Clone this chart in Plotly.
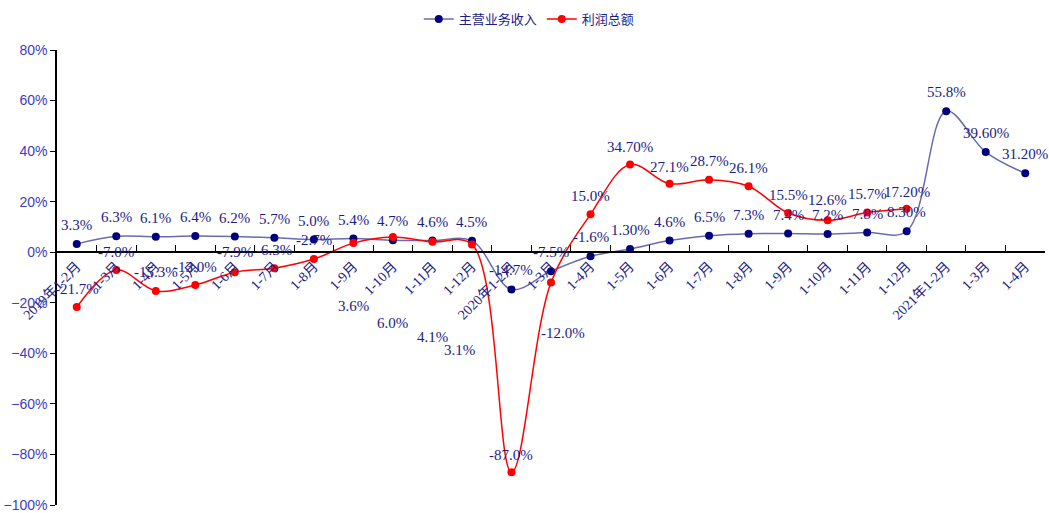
import plotly.graph_objects as go

categories = ["2019年1-2月", "1-3月", "1-4月", "1-5月", "1-6月", "1-7月", "1-8月", "1-9月",
              "1-10月", "1-11月", "1-12月", "2020年1-2月", "1-3月", "1-4月", "1-5月", "1-6月",
              "1-7月", "1-8月", "1-9月", "1-10月", "1-11月", "1-12月", "2021年1-2月", "1-3月", "1-4月"]
# category keys must be unique, labels repeat
keys = [str(i) for i in range(len(categories))]

revenue = [3.3, 6.3, 6.1, 6.4, 6.2, 5.7, 5.0, 5.4, 4.7, 4.6, 4.5, -14.7, -7.5, -1.6, 1.30,
           4.6, 6.5, 7.3, 7.4, 7.2, 7.8, 8.30, 55.8, 39.60, 31.20]
revenue_text = ["3.3%", "6.3%", "6.1%", "6.4%", "6.2%", "5.7%", "5.0%", "5.4%", "4.7%", "4.6%",
                "4.5%", "-14.7%", "-7.5%", "-1.6%", "1.30%", "4.6%", "6.5%", "7.3%", "7.4%",
                "7.2%", "7.8%", "8.30%", "55.8%", "39.60%", "31.20%"]

profit = [-21.7, -7.0, -15.3, -13.0, -7.9, -6.3, -2.7, 3.6, 6.0, 4.1, 3.1, -87.0, -12.0, 15.0,
          34.70, 27.1, 28.7, 26.1, 15.5, 12.6, 15.7, 17.20]
profit_text = ["-21.7%", "-7.0%", "-15.3%", "-13.0%", "-7.9%", "-6.3%", "-2.7%", "3.6%", "6.0%",
               "4.1%", "3.1%", "-87.0%", "-12.0%", "15.0%", "34.70%", "27.1%", "28.7%", "26.1%",
               "15.5%", "12.6%", "15.7%", "17.20%"]

# label offsets (pixels) for the profit series
profit_dx = [0, 0, 0, 0, 0, 0, 0, 0, 0, 0, -12, 0, 12, 0, 0, 0, 0, 0, 0, 0, 0, 0]
profit_dy = [18, 18, 19, 18, 20, 18, 19, -63, -86, -95, -106, 17, -50, 18, 18, 17, 19, 18, 18, 20, 19, 17]

navy = "#1c1c85"
label_font = dict(family="Liberation Serif, Noto Sans CJK SC", size=15, color=navy)

fig = go.Figure()
fig.add_trace(go.Scatter(x=keys, y=revenue, mode="lines+markers", name="主营业务收入",
                         line=dict(color="#6a6ab0", width=1.5, shape="spline", smoothing=1),
                         marker=dict(color="#000080", size=8)))
fig.add_trace(go.Scatter(x=keys[:len(profit)], y=profit, mode="lines+markers", name="利润总额",
                         line=dict(color="#ff0000", width=1.5, shape="spline", smoothing=1),
                         marker=dict(color="#ff0000", size=8)))

for k, v, t in zip(keys, revenue, revenue_text):
    fig.add_annotation(x=k, y=v, text=t, showarrow=False, yshift=19, font=label_font)
for k, v, t, dx, dy in zip(keys, profit, profit_text, profit_dx, profit_dy):
    fig.add_annotation(x=k, y=v, text=t, showarrow=False, xshift=dx, yshift=dy, font=label_font)

fig.update_layout(
    width=1049, height=513,
    margin=dict(l=57, r=4, t=48, b=8),
    plot_bgcolor="white", paper_bgcolor="white",
    showlegend=True,
    legend=dict(orientation="h", x=0.478, xanchor="center", y=1.068, yanchor="middle",
                font=dict(family="Noto Sans CJK SC", size=13, color=navy)),
    xaxis=dict(type="category", tickvals=keys, ticktext=categories, tickangle=-45,
               tickson="boundaries", ticks="inside", ticklen=6, tickcolor="black",
               showline=True, linecolor="black", linewidth=1.5, showgrid=False,
               anchor="free", position=100 / 180, automargin=False,
               range=[-0.5, len(keys) - 0.5],
               tickfont=dict(family="Liberation Serif, Noto Sans CJK SC", size=14, color=navy)),
    yaxis=dict(range=[-100, 80], dtick=20, ticksuffix="%", ticks="outside", ticklen=5,
               tickcolor="black", showline=True, linecolor="black", linewidth=1.5,
               showgrid=False, zeroline=False, automargin=False,
               tickfont=dict(family="Liberation Sans", size=14, color="#3c3cc0")),
)

# drop the default page margin so the chart fills the window
fig.write_html("out.html", config={"displayModeBar": False},
               post_script="document.body.style.margin='0';")
